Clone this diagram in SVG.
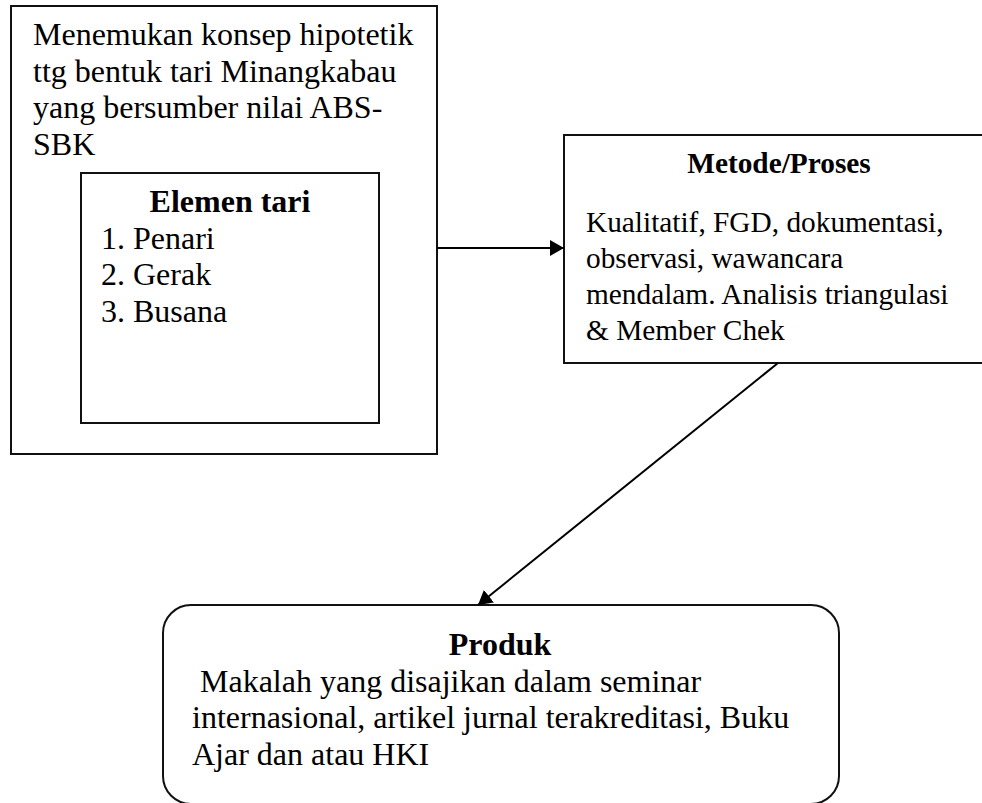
<svg xmlns="http://www.w3.org/2000/svg" width="982" height="803" viewBox="0 0 982 803">
<style>
.box{fill:#fff;stroke:#111;stroke-width:2}
.t{font-family:"Liberation Serif","Times New Roman",serif;font-size:32px;fill:#000}
.s{font-size:29.33px}
.b{font-weight:bold;text-anchor:middle}
.con{stroke:#000;stroke-width:2;fill:none}
</style>
<defs>
<marker id="ah" viewBox="0 0 14 16" refX="14" refY="8" markerWidth="14" markerHeight="16" markerUnits="userSpaceOnUse" orient="auto">
<path d="M0,0 L14,8 L0,16 Z" fill="#000"/>
</marker>
</defs>
<rect width="982" height="803" fill="#fff"/>
<g id="konsep">
<rect class="box" x="11" y="6" width="426" height="448"/>
<text class="t" x="33" y="45">Menemukan konsep hipotetik</text>
<text class="t" x="33" y="81.7">ttg bentuk tari Minangkabau</text>
<text class="t" x="33" y="118.4">yang bersumber nilai ABS-</text>
<text class="t" x="33" y="155">SBK</text>
</g>
<g id="elemen">
<rect class="box" x="81" y="173" width="298" height="250"/>
<text class="t b" x="230" y="212">Elemen tari</text>
<text class="t" x="101" y="248.7">1. Penari</text>
<text class="t" x="101" y="285.4">2. Gerak</text>
<text class="t" x="101" y="322">3. Busana</text>
</g>
<g id="metode">
<rect class="box" x="564" y="135" width="430" height="228"/>
<text class="t s b" x="779" y="173">Metode/Proses</text>
<text class="t s" x="586" y="232">Kualitatif, FGD, dokumentasi,</text>
<text class="t s" x="586" y="268">observasi, wawancara</text>
<text class="t s" x="586" y="304">mendalam. Analisis triangulasi</text>
<text class="t s" x="586" y="339.5">&amp; Member Chek</text>
</g>
<g id="produk">
<rect class="box" x="163" y="605" width="676" height="199" rx="28" ry="28"/>
<text class="t b" x="500" y="655">Produk</text>
<text class="t" x="192" y="692" xml:space="preserve"> Makalah yang disajikan dalam seminar</text>
<text class="t" x="192" y="728">internasional, artikel jurnal terakreditasi, Buku</text>
<text class="t" x="192" y="765">Ajar dan atau HKI</text>
</g>
<g id="connectors">
<line class="con" x1="437" y1="248" x2="564" y2="248" marker-end="url(#ah)"/>
<line class="con" x1="778" y1="363" x2="478" y2="605" marker-end="url(#ah)"/>
</g>
</svg>
